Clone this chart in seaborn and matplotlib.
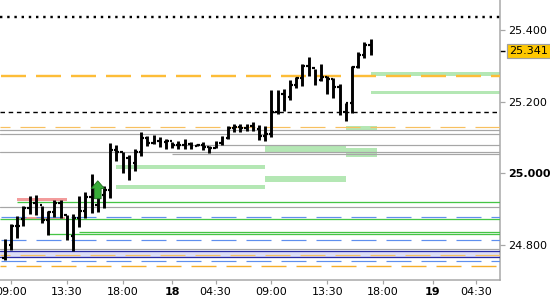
import matplotlib
matplotlib.use("Agg")
import matplotlib.pyplot as plt
import matplotlib.transforms as mtransforms
import numpy as np
import pandas as pd
import seaborn as sns

# ---------------- data ----------------
bar_index = list(range(-1, 59))
opens = [24.764, 24.800, 24.854, 24.872, 24.903, 24.918, 24.912, 24.870, 24.891, 24.918,
         24.884, 24.825, 24.875, 24.895, 24.935, 24.912, 24.939, 24.953, 25.065, 25.060,
         25.042, 25.030, 25.059, 25.098, 25.085, 25.090, 25.088, 25.091, 25.079, 25.079,
         25.082, 25.076, 25.079, 25.073, 25.071, 25.085, 25.099, 25.127, 25.129, 25.127,
         25.132, 25.124, 25.104, 25.110, 25.170, 25.221, 25.213, 25.247, 25.266, 25.300,
         25.294, 25.260, 25.269, 25.264, 25.240, 25.172, 25.195, 25.297, 25.330, 25.358]
highs = [24.817, 24.858, 24.881, 24.909, 24.937, 24.939, 24.909, 24.895, 24.926, 24.926,
         24.884, 24.886, 24.937, 24.947, 24.998, 24.953, 24.965, 25.084, 25.079, 25.060,
         25.051, 25.067, 25.116, 25.104, 25.107, 25.100, 25.095, 25.087, 25.090, 25.095,
         25.086, 25.083, 25.086, 25.076, 25.090, 25.104, 25.132, 25.138, 25.137, 25.137,
         25.144, 25.135, 25.132, 25.232, 25.232, 25.235, 25.260, 25.270, 25.305, 25.325,
         25.291, 25.305, 25.272, 25.266, 25.249, 25.195, 25.300, 25.339, 25.367, 25.374]
lows = [24.758, 24.786, 24.819, 24.854, 24.886, 24.884, 24.860, 24.828, 24.877, 24.874,
        24.814, 24.784, 24.851, 24.874, 24.888, 24.892, 24.903, 24.931, 25.035, 25.000,
        24.981, 25.007, 25.049, 25.077, 25.081, 25.074, 25.067, 25.070, 25.067, 25.069,
        25.069, 25.075, 25.066, 25.057, 25.070, 25.079, 25.096, 25.116, 25.116, 25.118,
        25.118, 25.093, 25.091, 25.102, 25.165, 25.175, 25.205, 25.237, 25.244, 25.272,
        25.246, 25.259, 25.221, 25.210, 25.163, 25.147, 25.167, 25.294, 25.321, 25.330]
closes = [24.800, 24.854, 24.854, 24.903, 24.918, 24.912, 24.870, 24.891, 24.918, 24.884,
          24.825, 24.875, 24.895, 24.935, 24.912, 24.939, 24.953, 25.065, 25.060, 25.042,
          25.030, 25.059, 25.098, 25.085, 25.090, 25.088, 25.091, 25.079, 25.079, 25.082,
          25.076, 25.079, 25.073, 25.071, 25.085, 25.099, 25.127, 25.129, 25.127, 25.132,
          25.124, 25.104, 25.110, 25.170, 25.221, 25.213, 25.247, 25.266, 25.300, 25.294,
          25.260, 25.269, 25.264, 25.240, 25.172, 25.195, 25.297, 25.330, 25.358, 25.341]

x_tick_pos = [0, 9, 18, 26, 33, 42, 51, 60, 68, 75]
x_tick_labels = ["09:00", "13:30", "18:00", "18", "04:30", "09:00", "13:30", "18:00", "19", "04:30"]
y_ticks = [24.8, 25.0, 25.2, 25.4]
y_tick_labels = ["24.800", "25.000", "25.200", "25.400"]
last_price = 25.341

# horizontal levels
gray_full = [25.120, 25.109, 25.060, 24.905, 24.788]
gray_day2 = [25.078, 25.053]
green_line_levels = [24.921, 24.872, 24.836, 24.831]
green_line_starts = [1, None, 11, 6]
blue_dashed_levels = [24.877, 24.813, 24.754]
dark_blue_band = [24.766, 24.783]
orange_thin_levels = [25.128, 24.771]
orange_low_level = 24.740
orange_thick_level = 25.272
black_dashed_level = 25.170
black_dotted_level = 25.437

# zones: start bar, end bar (None = chart end), low, high
zone_start = [17, 17, 41, 41, 54, 54, 58, 58]
zone_end = [41, 41, 54, 54, 59, 59, None, None]
zone_low = [25.011, 24.956, 24.976, 25.057, 25.046, 25.121, 25.272, 25.221]
zone_high = [25.022, 24.967, 24.993, 25.076, 25.071, 25.132, 25.283, 25.231]
red_start = [1, 1]
red_end = [9, 8.7]
red_low = [24.922, 24.872]
red_high = [24.932, 24.879]

signal_bar = 14
signal_from = 24.929
signal_to = 24.979

# ---------------- style ----------------
sns.set_theme(style="white")
plt.rcParams["font.family"] = ["DejaVu Sans"]
plt.rcParams["lines.scale_dashes"] = False
PX = 0.72  # points per pixel at 100 dpi

XMIN, XMAX = -1.77, 78.87
YMIN, YMAX = 24.7022, 25.4837

fig = plt.figure(figsize=(5.5, 3), dpi=100)
ax = fig.add_axes([0, 20 / 300, 500 / 550, 280 / 300])
ax.set_xlim(XMIN, XMAX)
ax.set_ylim(YMIN, YMAX)

# zones
for s, e, lo, hi in zip(zone_start, zone_end, zone_low, zone_high):
    e = XMAX if e is None else e
    ax.fill_between([s, e], lo, hi, color="#B4E7B4", lw=0, zorder=1)
for s, e, lo, hi in zip(red_start, red_end, red_low, red_high):
    ax.fill_between([s, e], lo, hi, color="#F39C9C", lw=0, zorder=1)

# lavender band
ax.axhspan(dark_blue_band[0], dark_blue_band[1], color="#DDDDF6", lw=0, zorder=1)
for lv in dark_blue_band:
    ax.axhline(lv, color="#2B2BA8", lw=1.3 * PX, zorder=3)

# gray lines
for lv in gray_full:
    ax.axhline(lv, color="#A6A6A6", lw=1.2 * PX, zorder=2)
for lv in gray_day2:
    ax.hlines(lv, 25.9, XMAX, color="#A6A6A6", lw=1.2 * PX, zorder=2)

# green lines
for lv, s in zip(green_line_levels, green_line_starts):
    s = XMIN if s is None else s
    ax.hlines(lv, s, XMAX, color="#45C445", lw=1.3 * PX, zorder=3)

# dashed levels
dash = (25 * PX, 10 * PX)
for lv in blue_dashed_levels:
    ax.axhline(lv, color="#5E8FEE", lw=1.2 * PX, ls=(34 * PX, dash), zorder=3)
for lv in orange_thin_levels:
    ax.axhline(lv, color="#F7C060", lw=1.2 * PX, ls=(15 * PX, dash), zorder=3)
ax.axhline(orange_low_level, color="#F5AE2A", lw=1.4 * PX, ls=(19 * PX, dash), zorder=3)
ax.axhline(orange_thick_level, color="#FDBD38", lw=2.4 * PX, ls=(34 * PX, dash), zorder=3)
ax.axhline(black_dashed_level, color="black", lw=1.4 * PX, ls=(0, (4.5 * PX, 3.7 * PX)), zorder=3)
ax.axhline(black_dotted_level, color="black", lw=2.4 * PX, ls=(0, (2.4 * PX, 4.8 * PX)), zorder=3)

# OHLC bars
bi = np.array(bar_index, dtype=float)
ax.vlines(bi, lows, highs, color="black", lw=2.9 * PX, zorder=5)
ax.hlines(opens, bi - 0.38, bi, color="black", lw=2.2 * PX, zorder=5)
ax.hlines(closes, bi, bi + 0.42, color="black", lw=2.2 * PX, zorder=5)

# signal arrow
ax.annotate("", xy=(signal_bar, signal_to), xytext=(signal_bar, signal_from),
            arrowprops=dict(arrowstyle="simple,head_length=0.55,head_width=0.95,tail_width=0.48",
                            fc="#38AC38", ec="#1E6E1E", lw=0.6, shrinkA=0, shrinkB=0,
                            mutation_scale=10),
            zorder=6)

# axes styling
for side in ["top", "left"]:
    ax.spines[side].set_visible(False)
for side in ["right", "bottom"]:
    ax.spines[side].set_visible(True)
    ax.spines[side].set_color("#A6A6A6")
    ax.spines[side].set_linewidth(1.5 * PX)

ax.yaxis.tick_right()
ax.set_xticks(x_tick_pos)
ax.set_xticklabels(x_tick_labels)
ax.set_yticks(y_ticks)
ax.set_yticklabels(y_tick_labels)
ax.tick_params(axis="x", which="major", length=4 * PX, width=1.2 * PX, color="#A6A6A6",
               labelsize=8, pad=2, labelcolor="black", bottom=True)
ax.tick_params(axis="y", which="major", length=5 * PX, width=1.2 * PX, color="#A6A6A6",
               labelsize=8, pad=2, labelcolor="black", right=True, left=False)
for lab in ax.get_xticklabels():
    if lab.get_text() in ("18", "19"):
        lab.set_fontweight("bold")
for lab in ax.get_yticklabels():
    if lab.get_text() == "25.000":
        lab.set_fontweight("bold")

ax.set_yticks([last_price], minor=True)
ax.set_yticklabels([""], minor=True)
ax.tick_params(axis="y", which="minor", length=5 * PX, width=1.4 * PX, color="black",
               right=True, left=False)

trans = mtransforms.blended_transform_factory(ax.transAxes, ax.transData)
ax.text(1.019, last_price, f"{last_price:.3f}", transform=trans, ha="left", va="center",
        fontsize=8, color="black",
        bbox=dict(boxstyle="square,pad=0.2", fc="#FFC800", ec="#A0A0A0", lw=1.2 * PX))

ax.grid(False)
fig.savefig("out.png", dpi=100)
